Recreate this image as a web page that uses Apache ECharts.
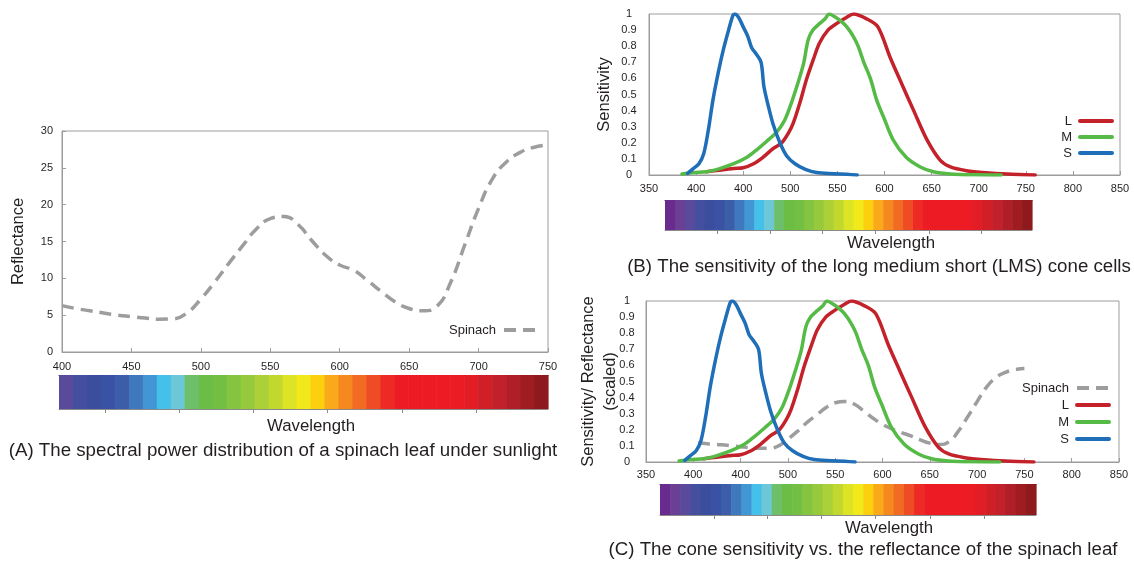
<!DOCTYPE html>
<html>
<head>
<meta charset="utf-8">
<script src="https://cdn.jsdelivr.net/npm/echarts@6/dist/echarts.min.js"></script>
<style>
  html, body { margin: 0; padding: 0; background: #ffffff; }
  #chart { width: 1134px; height: 563px; }
</style>
</head>
<body>
<div id="chart"></div>
<script>
// ---- Spinach leaf reflectance (panel A), wavelength in nm ----
const spinachNm = [400, 410, 420, 430, 440, 450, 460, 470, 480, 490, 500, 510, 520, 530, 540, 550, 560, 570, 580, 590,
  600, 610, 620, 630, 640, 650, 660, 670, 680, 690, 700, 710, 720, 730, 740, 750];
const spinachReflectance = [6.3, 5.9, 5.6, 5.3, 5.0, 4.8, 4.6, 4.45, 4.5, 5.3, 7.2, 9.5, 12.0, 14.4, 16.7, 18.1, 18.4, 17.3, 15.1, 13.1,
  11.8, 11.1, 9.7, 8.2, 6.8, 5.9, 5.6, 6.2, 9.5, 14.5, 19.5, 23.5, 25.8, 27.1, 27.8, 28.1];

// ---- Spinach reflectance scaled to the 0..1 sensitivity range (panel C) ----
const spinachScaledNm = [405, 410, 420, 430, 440, 450, 460, 470, 480, 490, 500, 510, 520, 530, 540, 550, 560, 570, 580, 590,
  600, 610, 620, 630, 640, 650, 660, 670, 680, 690, 700, 710, 720, 730, 740, 750];
const spinachScaled = [0.118, 0.116, 0.111, 0.107, 0.101, 0.095, 0.089, 0.085, 0.085, 0.10, 0.142, 0.19, 0.245, 0.29, 0.337, 0.368, 0.376, 0.36, 0.318, 0.272,
  0.234, 0.205, 0.183, 0.162, 0.137, 0.117, 0.109, 0.125, 0.19, 0.28, 0.375, 0.465, 0.525, 0.557, 0.573, 0.58];

// ---- Cone sensitivities [nm, relative sensitivity] ----
const coneL = [[411, 0.02], [425, 0.03], [440, 0.04], [450, 0.045], [461, 0.07], [471, 0.11], [482, 0.165], [491, 0.20], [498, 0.26],
  [503, 0.32], [510, 0.445], [517, 0.59], [524, 0.71], [531, 0.82], [540, 0.90], [549, 0.94], [560, 0.98], [567, 1.0], [581, 0.97],
  [593, 0.92], [606, 0.73], [618, 0.57], [631, 0.40], [645, 0.22], [659, 0.093], [670, 0.05], [687, 0.027], [708, 0.014], [730, 0.006], [760, 0.0]];
const coneM = [[385, 0.006], [397, 0.015], [411, 0.02], [425, 0.04], [440, 0.07], [454, 0.11], [464, 0.155], [475, 0.21], [486, 0.27],
  [494, 0.34], [501, 0.445], [508, 0.57], [514, 0.69], [519, 0.84], [524, 0.90], [531, 0.94], [537, 0.97], [541, 1.0], [548, 0.98],
  [555, 0.95], [560, 0.92], [567, 0.86], [572, 0.80], [578, 0.70], [585, 0.60], [592, 0.46], [599, 0.36], [609, 0.22], [623, 0.11],
  [638, 0.05], [652, 0.02], [670, 0.006], [694, 0.001], [724, 0.0]];
const coneS = [[391, 0.01], [397, 0.04], [403, 0.07], [408, 0.13], [413, 0.28], [418, 0.47], [424, 0.65], [429, 0.78], [434, 0.89],
  [439, 0.99], [441, 1.0], [445, 0.98], [450, 0.92], [455, 0.86], [459, 0.79], [464, 0.75], [469, 0.70], [472, 0.55], [477, 0.42],
  [482, 0.31], [489, 0.20], [496, 0.12], [505, 0.07], [516, 0.035], [528, 0.015], [546, 0.008], [560, 0.004], [571, 0.0]];

// ---- Tick labels of the sensitivity plots (as printed) ----
const sensTickLabels = ['350', '400', '400', '500', '550', '600', '650', '700', '750', '800', '850'];

// ---- Visible spectrum strip: stripe start wavelengths and colours ----
const stripeStartNm = [380, 390, 400, 410, 420, 430, 440, 450, 460, 470, 480, 490, 500, 510, 520, 530, 540, 550, 560, 570,
  580, 590, 600, 610, 620, 630, 640, 650, 660, 670, 680, 690, 700, 710, 720, 730, 740];
const stripeEndNm = 750;
const stripeColors = ['#6a2b8e', '#6a3f94', '#5a4a9c', '#454f9f', '#3b4e9e', '#3a52a3', '#3c5ea9', '#3f78bd', '#4196d3', '#45c0ea',
  '#6cc7d6', '#6dbf6a', '#6bbd45', '#72bf44', '#84c441', '#97c93d', '#acd037', '#c2d82e', '#dde325', '#f2e91b',
  '#fdd00f', '#f9a91a', '#f5891f', '#f26b22', '#ef4b24', '#ed2b24', '#ed1c24', '#ed1c24', '#ed1c24', '#ed1c24',
  '#ec1c24', '#e21d25', '#d11f28', '#c2202a', '#b01e27', '#9f1c21', '#8e1a1d'];
const stripeTickNm = [433, 486, 539, 592, 646, 699];

const FONT = "'Liberation Sans', Arial, Helvetica, sans-serif";
const TEXT = '#231f20';
const BOX = '#9c9c9c';
const GRAY = '#9d9d9f';
const RED = '#c4222b';
const GREEN = '#55bb46';
const BLUE = '#1f6fb8';

function pairs(xs, ys) { return xs.map((x, i) => [x, ys[i]]); }

function plotX(gridIndex, min, max, extra) {
  return Object.assign({
    gridIndex, type: 'value', min, max, interval: 50,
    axisLine: { show: true, lineStyle: { color: BOX, width: 1 } },
    axisTick: { show: true, inside: true, length: 4, lineStyle: { color: BOX } },
    axisLabel: { fontFamily: FONT, fontSize: 11, color: TEXT, margin: 8 },
    splitLine: { show: false }
  }, extra || {});
}

function stripeAxes(gridIndex, min) {
  return [
    {
      gridIndex, type: 'value', min, max: stripeEndNm, position: 'bottom',
      axisLine: { show: true, lineStyle: { color: '#8a8a8a', width: 1 } },
      axisTick: { show: true, inside: false, length: 4, customValues: stripeTickNm, lineStyle: { color: '#8a8a8a' } },
      axisLabel: { show: false }, splitLine: { show: false }
    },
    {
      gridIndex, type: 'value', min, max: stripeEndNm, position: 'top',
      axisLine: { show: true, lineStyle: { color: '#26243a', width: 1 } },
      axisTick: { show: false }, axisLabel: { show: false }, splitLine: { show: false }
    }
  ];
}

function stripeSeries(xAxisIndex, yAxisIndex, min) {
  const data = [];
  const colors = [];
  stripeStartNm.forEach((start, i) => {
    const end = i + 1 < stripeStartNm.length ? stripeStartNm[i + 1] : stripeEndNm;
    if (end <= min) return;
    data.push([Math.max(start, min), end]);
    colors.push(stripeColors[i]);
  });
  return {
    type: 'custom', xAxisIndex, yAxisIndex, silent: true, data,
    encode: { x: [0, 1] },
    renderItem(params, api) {
      const a = api.coord([api.value(0), 1]);
      const b = api.coord([api.value(1), 0]);
      return {
        type: 'rect',
        shape: { x: a[0], y: a[1], width: b[0] - a[0] + 0.6, height: b[1] - a[1] },
        style: { fill: colors[params.dataIndex] }
      };
    }
  };
}

function coneSeries(name, data, color, xAxisIndex, yAxisIndex) {
  return {
    name, type: 'line', xAxisIndex, yAxisIndex, data,
    symbol: 'none', smooth: 0.3,
    lineStyle: { color, width: 3.5, cap: 'round', join: 'round' },
    itemStyle: { color }
  };
}

function spinachSeries(data, xAxisIndex, yAxisIndex) {
  return {
    name: 'Spinach', type: 'line', xAxisIndex, yAxisIndex, data,
    symbol: 'none', smooth: 0.5,
    lineStyle: { color: GRAY, width: 3.5, type: [12, 7] },
    itemStyle: { color: GRAY }
  };
}

function legend(names, right, top, gap) {
  return {
    data: names, orient: 'vertical', align: 'right', right, top, padding: 0,
    itemWidth: 32, itemHeight: 10, itemGap: gap, selectedMode: false,
    itemStyle: { opacity: 0 },
    lineStyle: { width: 4 },
    textStyle: { fontFamily: FONT, fontSize: 13, color: TEXT, lineHeight: 16, padding: [0, 3, 0, 0] }
  };
}

function label(text, x, y, size) {
  return {
    type: 'text', x, y, silent: true,
    style: { text, fontFamily: FONT, fontSize: size, fill: TEXT, align: 'center', verticalAlign: 'middle' }
  };
}

const sensFormatter = v => sensTickLabels[Math.round((v - 350) / 50)];
const yName = { fontFamily: FONT, fontSize: 16.5, color: TEXT };

const option = {
  animation: false,
  backgroundColor: '#ffffff',
  grid: [
    { left: 62, top: 131, width: 486, height: 221, show: true, borderColor: BOX, borderWidth: 1, containLabel: false },
    { left: 59, top: 375, width: 489, height: 34 },
    { left: 649, top: 14, width: 471, height: 161, show: true, borderColor: BOX, borderWidth: 1 },
    { left: 665, top: 200, width: 367, height: 30 },
    { left: 646, top: 301, width: 473, height: 161, show: true, borderColor: BOX, borderWidth: 1 },
    { left: 660, top: 484, width: 376, height: 31 }
  ],
  xAxis: [
    plotX(0, 400, 750, { axisLabel: { fontFamily: FONT, fontSize: 11, color: TEXT, margin: 9 } }),
    ...stripeAxes(1, 400),
    plotX(2, 350, 850, { axisLabel: { fontFamily: FONT, fontSize: 11, color: TEXT, margin: 8, formatter: sensFormatter } }),
    ...stripeAxes(3, 380),
    plotX(4, 350, 850, { axisLabel: { fontFamily: FONT, fontSize: 11, color: TEXT, margin: 7, formatter: sensFormatter } }),
    ...stripeAxes(5, 380)
  ],
  yAxis: [
    {
      gridIndex: 0, type: 'value', min: 0, max: 30, interval: 5,
      name: 'Reflectance', nameLocation: 'middle', nameGap: 35, nameRotate: 90, nameMoveOverlap: false, nameTextStyle: yName,
      axisLine: { show: true, lineStyle: { color: BOX } },
      axisTick: { show: true, inside: true, length: 4, lineStyle: { color: BOX } },
      axisLabel: { fontFamily: FONT, fontSize: 11, color: TEXT, margin: 9 },
      splitLine: { show: false }
    },
    { gridIndex: 1, type: 'value', min: 0, max: 1, show: false },
    {
      gridIndex: 2, type: 'value', min: 0, max: 1, interval: 0.1,
      name: 'Sensitivity', nameLocation: 'middle', nameGap: 36, nameRotate: 90, nameMoveOverlap: false, nameTextStyle: yName,
      axisLine: { show: true, lineStyle: { color: BOX } },
      axisTick: { show: false },
      axisLabel: { fontFamily: FONT, fontSize: 11, color: TEXT, margin: 20, align: 'center' },
      splitLine: { show: false }
    },
    { gridIndex: 3, type: 'value', min: 0, max: 1, show: false },
    {
      gridIndex: 4, type: 'value', min: 0, max: 1, interval: 0.1,
      name: 'Sensitivity/ Reflectance\n(scaled)', nameLocation: 'middle', nameGap: 25, nameRotate: 90, nameMoveOverlap: false,
      nameTextStyle: Object.assign({ lineHeight: 22 }, yName),
      axisLine: { show: true, lineStyle: { color: BOX } },
      axisTick: { show: false },
      axisLabel: { fontFamily: FONT, fontSize: 11, color: TEXT, margin: 19, align: 'center' },
      splitLine: { show: false }
    },
    { gridIndex: 5, type: 'value', min: 0, max: 1, show: false }
  ],
  legend: [
    legend(['Spinach'], 596, 322, 0),
    legend(['L', 'M', 'S'], 20, 113, 0),
    legend(['Spinach', 'L', 'M', 'S'], 23, 380, 1)
  ],
  graphic: [
    label('Wavelength', 311, 426, 16.8),
    label('(A) The spectral power distribution of a spinach leaf under sunlight', 283, 451, 18.7),
    label('Wavelength', 891, 243, 16.8),
    label('(B) The sensitivity of the long medium short (LMS) cone cells', 879, 267, 18.7),
    label('Wavelength', 889, 528, 16.8),
    label('(C) The cone sensitivity vs. the reflectance of the spinach leaf', 863, 550, 18.7)
  ],
  series: [
    spinachSeries(pairs(spinachNm, spinachReflectance), 0, 0),
    stripeSeries(1, 1, 400),
    coneSeries('L', coneL, RED, 3, 2),
    coneSeries('M', coneM, GREEN, 3, 2),
    coneSeries('S', coneS, BLUE, 3, 2),
    stripeSeries(4, 3, 380),
    spinachSeries(pairs(spinachScaledNm, spinachScaled), 6, 4),
    coneSeries('L', coneL, RED, 6, 4),
    coneSeries('M', coneM, GREEN, 6, 4),
    coneSeries('S', coneS, BLUE, 6, 4),
    stripeSeries(7, 5, 380)
  ]
};

const chart = echarts.init(document.getElementById('chart'), null, { renderer: 'canvas' });
chart.setOption(option);
</script>
</body>
</html>
